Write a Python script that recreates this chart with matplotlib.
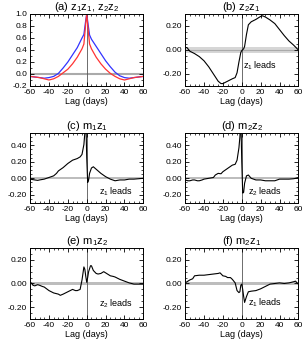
import numpy as np
from matplotlib import pyplot as plt
from matplotlib.ticker import MultipleLocator, FormatStrFormatter

plt.rcParams['font.family'] = ['Liberation Sans', 'DejaVu Sans']
plt.rcParams['mathtext.fontset'] = 'custom'
plt.rcParams['mathtext.rm'] = 'Liberation Sans'
plt.rcParams['mathtext.it'] = 'Liberation Sans'
plt.rcParams['axes.unicode_minus'] = False

# (a) auto-correlations z1z1 (blue) and z2z2 (red)
lag_a = [-60, -55, -50, -45, -40, -35, -30, -25, -20, -15, -10, -5, -3, -1, 0,
         1, 3, 5, 10, 15, 20, 25, 30, 35, 40, 45, 50, 55, 60]
z1z1 = [-0.04, -0.05, -0.06, -0.07, -0.06, -0.04, 0.01, 0.10, 0.20, 0.32, 0.44, 0.60, 0.66, 0.90, 1.0,
        0.88, 0.65, 0.58, 0.46, 0.34, 0.22, 0.12, 0.03, -0.03, -0.06, -0.07, -0.06, -0.05, -0.04]
z2z2 = [-0.04, -0.05, -0.06, -0.08, -0.10, -0.08, -0.04, 0.02, 0.08, 0.17, 0.28, 0.42, 0.50, 0.85, 1.0,
        0.82, 0.50, 0.42, 0.28, 0.17, 0.08, 0.01, -0.04, -0.08, -0.10, -0.08, -0.06, -0.05, -0.04]

# (b) z2z1
lag_b = [-60, -58, -55, -50, -45, -40, -35, -30, -25, -22, -20, -15, -10, -7, -5, -3, -1, 0,
         2, 3, 5, 7, 10, 15, 20, 22, 25, 30, 35, 40, 45, 50, 55, 60]
z2z1 = [0.02, 0.02, -0.01, -0.03, -0.055, -0.09, -0.14, -0.20, -0.26, -0.28, -0.28, -0.26, -0.24, -0.23,
        -0.19, -0.10, -0.02, -0.005, 0.01, 0.03, 0.13, 0.21, 0.235, 0.255, 0.28, 0.285, 0.275, 0.25,
        0.22, 0.17, 0.12, 0.075, 0.04, 0.0]

# (c) m1z1
lag_c = [-60, -55, -52, -50, -45, -40, -35, -32, -30, -25, -20, -15, -10, -7, -5, -3, -2, -1, 0,
         1, 2, 3, 5, 7, 10, 15, 20, 25, 30, 35, 40, 45, 50, 55, 60]
m1z1 = [-0.01, -0.02, -0.025, -0.02, -0.01, 0.01, 0.03, 0.06, 0.09, 0.13, 0.18, 0.22, 0.24, 0.26,
        0.29, 0.41, 0.55, 0.75, 0.25, -0.05, -0.02, 0.06, 0.125, 0.14, 0.11, 0.06, 0.02, -0.01,
        -0.03, -0.02, -0.02, -0.01, -0.01, -0.005, 0.0]

# (d) m2z2
lag_d = [-60, -57, -55, -52, -50, -47, -45, -42, -40, -35, -30, -28, -25, -22, -20, -15, -10, -7,
         -5, -3, -2, -1, 0, 1, 2, 3, 5, 7, 10, 15, 20, 25, 30, 35, 40, 45, 50, 55, 57, 60]
m2z2 = [-0.02, -0.03, -0.03, -0.02, -0.02, -0.03, -0.03, -0.02, -0.01, 0.0, 0.01, 0.04, 0.06, 0.055,
        0.08, 0.12, 0.16, 0.17, 0.22, 0.37, 0.5, 0.75, 0.2, -0.18, -0.17, -0.06, 0.03, 0.04, 0.0,
        -0.02, -0.02, -0.03, -0.03, -0.03, -0.01, -0.01, -0.01, -0.005, 0.0, 0.01]

# (e) m1z2
lag_e = [-60, -58, -57, -55, -52, -50, -47, -45, -40, -35, -30, -28, -25, -20, -15, -12, -10, -7,
         -5, -3, -2, -1, 0, 1, 2, 4, 5, 7, 10, 12, 15, 18, 20, 23, 25, 28, 30, 35, 40, 45, 50, 55, 60]
m1z2 = [0.01, 0.0, -0.015, -0.02, -0.01, -0.015, -0.025, -0.03, -0.06, -0.08, -0.09, -0.10, -0.09,
        -0.07, -0.05, -0.06, -0.06, -0.05, 0.03, 0.14, 0.12, 0.06, 0.01, 0.05, 0.10, 0.15, 0.15,
        0.11, 0.085, 0.08, 0.085, 0.10, 0.09, 0.075, 0.065, 0.06, 0.055, 0.035, 0.02, 0.005,
        -0.005, -0.005, -0.005]

# (f) m2z1
lag_f = [-60, -57, -55, -52, -50, -45, -40, -35, -30, -25, -23, -20, -17, -15, -12, -10, -7, -5,
         -3, -2, -1, 0, 1, 2, 3, 5, 7, 10, 15, 20, 25, 30, 35, 40, 45, 50, 55, 57, 58, 60]
m2z1 = [0.005, 0.02, 0.03, 0.04, 0.065, 0.07, 0.07, 0.075, 0.08, 0.085, 0.09, 0.065, 0.06, 0.05,
        0.05, 0.035, 0.005, -0.06, -0.077, -0.07, -0.015, -0.005, -0.05, -0.11, -0.16, -0.11,
        -0.07, -0.065, -0.06, -0.045, -0.025, -0.005, 0.0, 0.005, 0.0, 0.005, 0.015, 0.02, 0.01,
        -0.005]

fig = plt.figure(figsize=(3.07, 3.49), dpi=100)

lefts = [0.098, 0.603]
rows = [(0.7536, 0.2063), (0.4183, 0.2006), (0.0860, 0.2034)]
width = 0.369

panels = [
    ('(a) z$_1$z$_1$, z$_2$z$_2$', (-0.2, 1.0), 0.2, 0.1, '%.1f', None),
    ('(b) z$_2$z$_1$', (-0.3, 0.3), 0.2, 0.05, '%.2f', ('z$_1$ leads', 19, -0.13)),
    ('(c) m$_1$z$_1$', (-0.3, 0.55), 0.2, 0.05, '%.2f', ('z$_1$ leads', 31, -0.16)),
    ('(d) m$_2$z$_2$', (-0.3, 0.55), 0.2, 0.05, '%.2f', ('z$_2$ leads', 25, -0.165)),
    ('(e) m$_1$z$_2$', (-0.3, 0.3), 0.2, 0.05, '%.2f', ('z$_2$ leads', 31, -0.17)),
    ('(f) m$_2$z$_1$', (-0.3, 0.3), 0.2, 0.05, '%.2f', ('z$_1$ leads', 25, -0.165)),
]
series = [None, (lag_b, z2z1), (lag_c, m1z1), (lag_d, m2z2), (lag_e, m1z2), (lag_f, m2z1)]

for i, (title, ylim, ymaj, ymin, fmt, note) in enumerate(panels):
    r, c = divmod(i, 2)
    ax = fig.add_axes([lefts[c], rows[r][0], width, rows[r][1]])

    # significance band / zero line
    if i == 0:
        ax.axhline(0, color='#aaaaaa', lw=1.5, zorder=1)
    elif i == 1:
        ax.axhspan(-0.027, 0.027, color='#d6d6d6', lw=0, zorder=0)
        ax.axhline(0, color='#aaaaaa', lw=0.8, zorder=1)
    else:
        ax.axhspan(-0.01, 0.01, color='#bdbdbd', lw=0, zorder=0)
    ax.axvline(0, color='#555555', lw=0.6, zorder=1)

    if i == 0:
        ax.plot(lag_a, z1z1, color='#3333ff', lw=0.9, zorder=2)
        ax.plot(lag_a, z2z2, color='#ff3333', lw=0.9, zorder=2)
    else:
        x, y = series[i]
        ax.plot(x, y, color='black', lw=0.8, zorder=2)

    ax.set_xlim(-60, 60)
    ax.set_ylim(*ylim)
    ax.xaxis.set_major_locator(MultipleLocator(20))
    ax.xaxis.set_minor_locator(MultipleLocator(5))
    ax.yaxis.set_major_locator(MultipleLocator(ymaj))
    ax.yaxis.set_minor_locator(MultipleLocator(ymin))
    ax.yaxis.set_major_formatter(FormatStrFormatter(fmt))
    ax.tick_params(which='both', direction='in', top=True, right=True,
                   labelsize=6, pad=2)
    ax.tick_params(which='major', length=3, width=0.6)
    ax.tick_params(which='minor', length=1.5, width=0.5)
    for s in ax.spines.values():
        s.set_linewidth(0.7)
    ax.set_xlabel('Lag (days)', fontsize=6.5, labelpad=1)
    ax.set_title(title, fontsize=8, pad=1)
    if note:
        ax.text(note[1], note[2], note[0], fontsize=6.5, ha='center', va='center')

fig.savefig('out.png', dpi=100)
